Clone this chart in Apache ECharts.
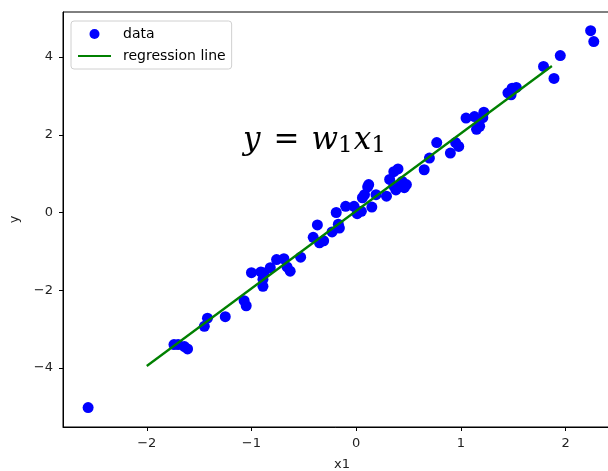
<!DOCTYPE html>
<html>
<head>
<meta charset="utf-8">
<script src="https://cdn.jsdelivr.net/npm/echarts@6/dist/echarts.min.js"></script>
<style>
  html, body { margin: 0; padding: 0; background: #fff; overflow: hidden; }
  #main { width: 608px; height: 471px; }
</style>
</head>
<body>
<div id="main"></div>
<script>
// scatter data: [x1, y]
const points = [
  [-2.56, -5.02],
  [-1.74, -3.40], [-1.70, -3.40], [-1.64, -3.45], [-1.61, -3.51],
  [-1.45, -2.93], [-1.42, -2.72], [-1.25, -2.68],
  [-1.07, -2.27], [-1.05, -2.40],
  [-1.00, -1.55], [-0.91, -1.53], [-0.88, -1.56], [-0.89, -1.72], [-0.89, -1.90],
  [-0.82, -1.42], [-0.76, -1.21], [-0.69, -1.19], [-0.66, -1.40], [-0.63, -1.51],
  [-0.53, -1.15],
  [-0.41, -0.64], [-0.37, -0.32], [-0.35, -0.78], [-0.31, -0.73],
  [-0.23, -0.50], [-0.19, 0.00], [-0.16, -0.40], [-0.17, -0.30],
  [-0.10, 0.16], [-0.02, 0.16], [0.01, -0.03], [0.05, 0.03], [0.06, 0.38],
  [0.11, 0.66], [0.12, 0.72], [0.08, 0.46], [0.15, 0.14], [0.19, 0.46],
  [0.29, 0.42], [0.32, 0.85], [0.36, 1.05], [0.40, 1.12], [0.44, 0.80],
  [0.48, 0.72], [0.36, 0.68], [0.46, 0.64], [0.38, 0.58],
  [0.65, 1.10], [0.70, 1.40], [0.77, 1.80], [0.90, 1.53], [0.95, 1.80], [0.98, 1.70],
  [1.05, 2.43], [1.13, 2.47], [1.15, 2.14], [1.18, 2.22], [1.22, 2.58], [1.21, 2.44],
  [1.45, 3.08], [1.48, 3.03], [1.49, 3.20], [1.53, 3.22],
  [1.79, 3.76], [1.89, 3.45], [1.95, 4.04], [2.24, 4.68], [2.27, 4.40]
];

// fitted line end points
const lineX = [-2.0, 1.87];
const lineY = [-3.95, 3.77];

const xTicks = [-2, -1, 0, 1, 2];
const yTicks = [-4, -2, 0, 2, 4];

const linePoints = lineX.map((x, i) => [x, lineY[i]]);
const minus = v => String(v).replace('-', '\u2212');

const tickFont = { color: '#222', fontSize: 13, fontFamily: 'DejaVu Sans' };
const mathFont = 'DejaVu Serif';

const chart = echarts.init(document.getElementById('main'));
chart.setOption({
  animation: false,
  grid: {
    left: 63, top: 12, bottom: 44, right: -13,
    outerBoundsMode: 'none',
    show: true, borderColor: '#000', borderWidth: 1
  },
  legend: {
    orient: 'vertical',
    left: 71, top: 21,
    padding: [6, 6, 6, 6],
    itemWidth: 33, itemHeight: 10, itemGap: 8,
    borderColor: '#d0d0d0', borderWidth: 1, borderRadius: 3,
    backgroundColor: '#fff',
    textStyle: { color: '#000', fontSize: 14, lineHeight: 14, fontFamily: 'DejaVu Sans', padding: [0, 0, 0, 7] },
    data: [
      { name: 'data', icon: 'circle' },
      { name: 'regression line', itemStyle: { opacity: 0 } }
    ]
  },
  xAxis: {
    type: 'value', min: -2.80, max: 2.53,
    name: 'x1', nameLocation: 'middle', nameGap: 31,
    nameTextStyle: { color: '#222', fontSize: 13, fontFamily: 'DejaVu Sans' },
    axisLine: { onZero: false, lineStyle: { color: '#000', width: 1 } },
    axisTick: { show: true, length: 4, customValues: xTicks, lineStyle: { color: '#000' } },
    axisLabel: { customValues: xTicks, margin: 10, formatter: minus, ...tickFont },
    splitLine: { show: false }
  },
  yAxis: {
    type: 'value', min: -5.52, max: 5.16,
    name: 'y', nameLocation: 'middle', nameGap: 42,
    nameTextStyle: { color: '#222', fontSize: 13, fontFamily: 'DejaVu Sans' },
    axisLine: { onZero: false, lineStyle: { color: '#000', width: 1 } },
    axisTick: { show: true, length: 4, customValues: yTicks, lineStyle: { color: '#000' } },
    axisLabel: { customValues: yTicks, margin: 10, formatter: minus, ...tickFont },
    splitLine: { show: false }
  },
  graphic: [{
    type: 'text',
    left: 243, top: 125,
    style: {
      text: '{i|y}{r|=}{i|w}{s|1}{i|x}{s|1}',
      rich: {
        i: { fontFamily: mathFont, fontStyle: 'italic', fontSize: 31, fill: '#000', lineHeight: 34 },
        r: { fontFamily: mathFont, fontSize: 31, fill: '#000', lineHeight: 34, padding: [0, 12, 0, 13] },
        s: { fontFamily: mathFont, fontSize: 23, fill: '#000', verticalAlign: 'bottom', lineHeight: 22, padding: [0, 1, 0, 0] }
      }
    }
  }],
  series: [
    {
      name: 'data', type: 'scatter', data: points,
      symbolSize: 11, itemStyle: { color: '#0000ff', opacity: 1 }, z: 2
    },
    {
      name: 'regression line', type: 'line', data: linePoints,
      symbol: 'none', lineStyle: { color: '#008000', width: 2.3 }, z: 3
    }
  ]
});
</script>
</body>
</html>
